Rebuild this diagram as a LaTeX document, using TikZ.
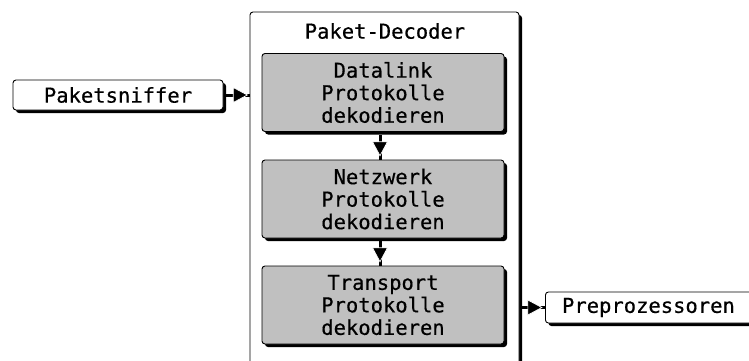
\documentclass[tikz,border=0pt]{standalone}
\usepackage{fontspec}
\newfontfamily\boxfont[FakeBold=0.5]{DejaVu Sans Mono}
\usetikzlibrary{shadows,decorations.markings}
\definecolor{stagegray}{RGB}{192,192,192}
\tikzset{
  plainbox/.style={draw=black, line width=0.9pt, rounded corners=3pt, fill=white,
    drop shadow={shadow xshift=3pt, shadow yshift=-3pt, fill=black, opacity=1},
    font=\boxfont\fontsize{20.5}{22.5}\selectfont, align=center, inner sep=0pt},
  stagebox/.style={plainbox, fill=stagegray, minimum width=242pt, minimum height=78pt},
  flow/.style={line width=3pt, postaction={decorate},
    decoration={markings, mark=at position #1 with {
      \fill[black, draw=white, line width=0.7pt] (-7pt,-7.5pt) -- (7pt,0pt) -- (-7pt,7.5pt) -- cycle;}}},
  flow/.default=0.6
}
\begin{document}
\begin{tikzpicture}[x=1pt,y=-1pt]
  \clip (0,0) rectangle (749,361);
  \fill[white] (0,0) rectangle (749,361);

  % outer decoder frame (runs past the lower edge)
  \node[plainbox, minimum width=269pt, minimum height=368pt] (dec) at (384.5,196) {};
  \node[font=\boxfont\fontsize{20.5}{22.5}\selectfont] (title) at (385,31) {Paket-Decoder};

  % decoding stages
  \node[stagebox] (dl) at (383,92.5) {Datalink\\Protokolle\\dekodieren};
  \node[stagebox] (nw) at (383,199) {Netzwerk\\Protokolle\\dekodieren};
  \node[stagebox] (tp) at (383,305) {Transport\\Protokolle\\dekodieren};

  % input and output
  \node[plainbox, minimum width=210pt, minimum height=30pt] (sniff) at (118,95) {Paketsniffer};
  \node[plainbox, minimum width=210pt, minimum height=31pt, anchor=west] (pre) at (545,307.5) {\hspace*{-4pt}Preprozessoren};

  % connectors
  \coordinate (dlb) at (380,135);
  \coordinate (nwt) at (380,160);
  \coordinate (nwb) at (380,241);
  \coordinate (tpt) at (380,266);
  \draw[flow=0.55] (dlb) -- (nwt);
  \draw[flow=0.55] (nwb) -- (tpt);
  \draw[flow=0.6] (sniff.east) ++(3,0) -- (dec.west |- sniff.east);
  \draw[flow=0.55] (dec.east |- pre.west) ++(3,0) -- (pre.west);
\end{tikzpicture}
\end{document}
